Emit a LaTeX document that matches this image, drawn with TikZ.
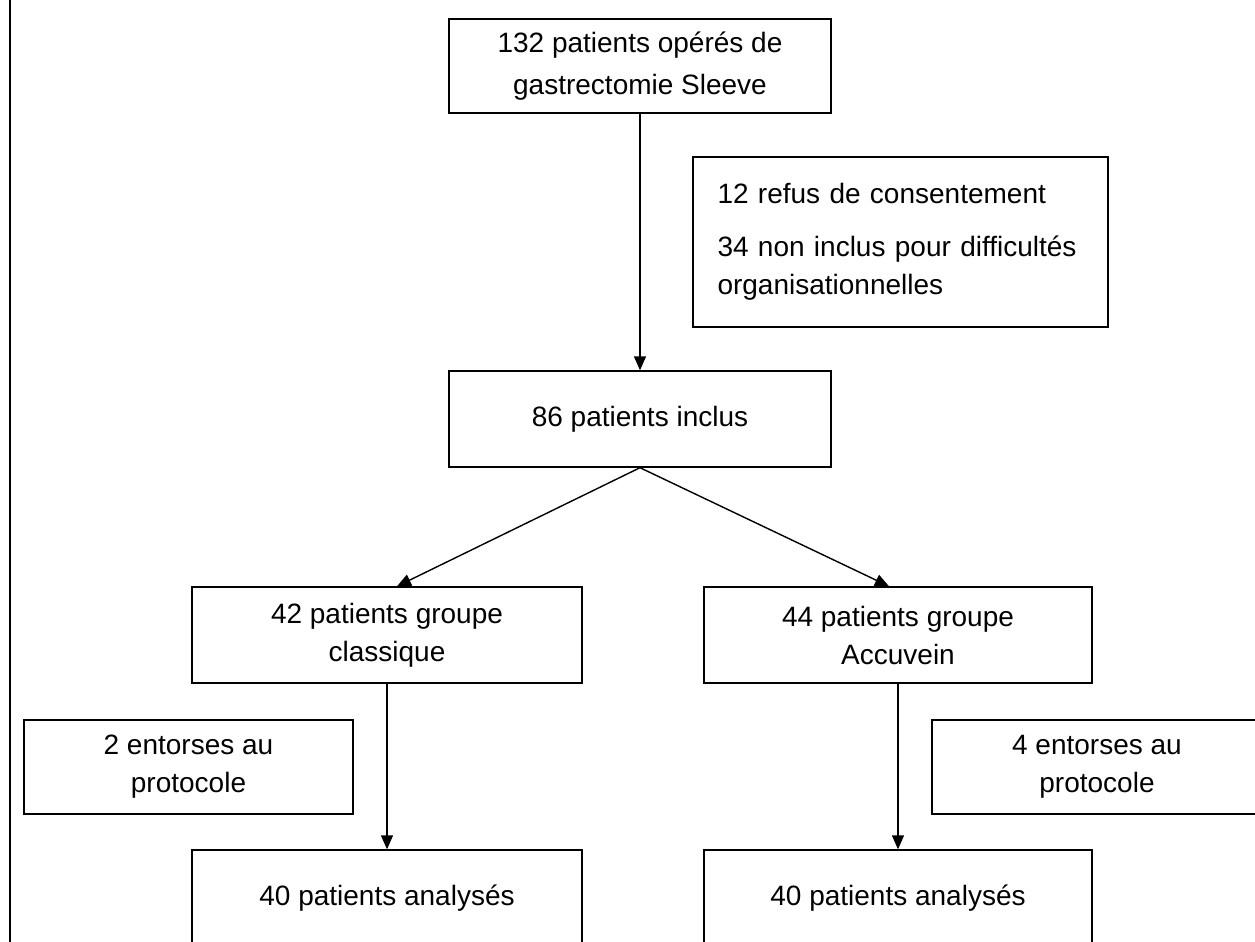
\documentclass[tikz,border=0pt]{standalone}
\usepackage{fontspec}
\setmainfont{Liberation Sans}
\usetikzlibrary{positioning, arrows.meta, calc}

\begin{document}
\begin{tikzpicture}[x=0.5pt, y=-0.5pt, ->, >={Triangle[width=6pt, length=7pt]}, line width=.7pt,
  box/.style={draw, rectangle, align=center, inner sep=0pt, font=\fontsize{14}{19}\selectfont}]
  \useasboundingbox (0,0) rectangle (1255,942);
  \clip (0,0) rectangle (1255,942);

  \draw[-, line width=1.1pt] (10,0) -- (10,942);

  \node[box, minimum width=191pt, minimum height=47pt, font=\fontsize{14}{21}\selectfont] (sleeve) at (640,66) {132 patients opérés de\\gastrectomie Sleeve};
  \node[box, align=left, text width=183pt, minimum width=207.5pt, minimum height=85pt] (exclus) at (900.5,242)
    {12 refus de consentement\\[10pt]\fontsize{14}{16.5}\selectfont 34 non inclus pour difficultés\\organisationnelles};
  \node[box, minimum width=191pt, minimum height=48pt] (inclus) at (640,419) {86 patients inclus};
  \node[box, minimum width=195pt, minimum height=48pt] (classique) at (387,635) {42 patients groupe\\classique};
  \node[box, minimum width=194pt, minimum height=48pt] (accuvein) at (898,635) {44 patients groupe\\Accuvein};
  \node[box, minimum width=164.5pt, minimum height=47pt] (entorseA) at (188.5,767) {2 entorses au\\protocole};
  \node[box, minimum width=165pt, minimum height=47pt] (entorseB) at (1097,767) {4 entorses au\\protocole};
  \node[box, minimum width=195pt, minimum height=48pt] (analyseA) at (387,898) {40 patients analysés};
  \node[box, minimum width=194pt, minimum height=48pt] (analyseB) at (898,898) {40 patients analysés};

  \path (sleeve) edge (inclus)
        (inclus.south) edge ([xshift=5pt]classique.north)
        (inclus.south) edge ([xshift=-4.5pt]accuvein.north)
        (classique) edge (analyseA)
        (accuvein) edge (analyseB);
\end{tikzpicture}
\end{document}
